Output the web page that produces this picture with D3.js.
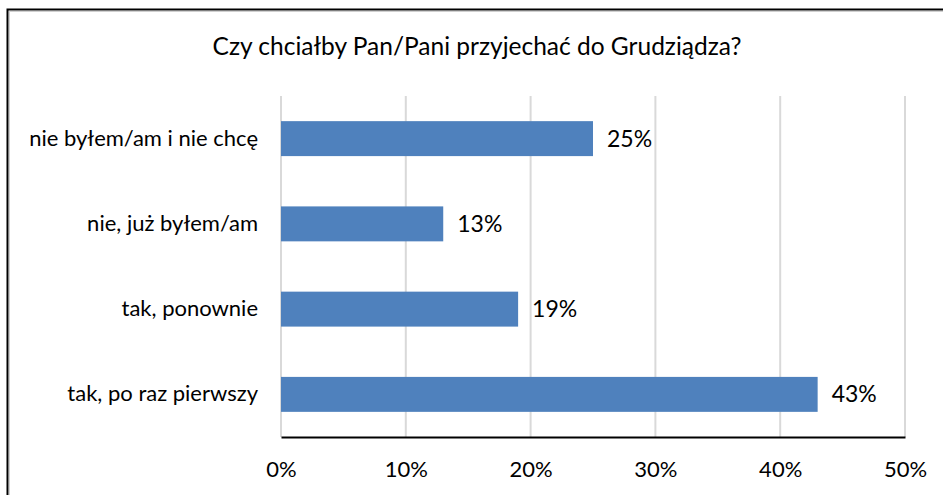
<!DOCTYPE html>
<html><head><meta charset="utf-8">
<script src="https://cdn.jsdelivr.net/npm/d3@7"></script>
<style>body{margin:0;background:#fff}svg{display:block}</style>
</head><body>
<script>
const title = "Czy chciałby Pan/Pani przyjechać do Grudziądza?";
const categories = ["nie byłem/am i nie chcę", "nie, już byłem/am", "tak, ponownie", "tak, po raz pierwszy"];
const values = [25, 13, 19, 43];
const tickValues = [0, 10, 20, 30, 40, 50];

const W = 943, H = 495;
const svg = d3.select("body").append("svg").attr("width", W).attr("height", H);
const font = "Lato, 'Open Sans', sans-serif";

// frame
svg.append("rect").attr("x", 7.5).attr("y", 9.5).attr("width", 960).attr("height", 520)
  .attr("fill", "#fff").attr("stroke", "#000").attr("stroke-width", 2);
svg.append("rect").attr("x", 9.5).attr("y", 11.5).attr("width", 960).attr("height", 520)
  .attr("fill", "none").attr("stroke", "#d0d0d0").attr("stroke-width", 1);

const x = d3.scaleLinear().domain([0, 50]).range([281, 905]);
const y = d3.scaleBand().domain(categories).range([96, 437]).paddingInner(0.59).paddingOuter(0.295);

// gridlines
svg.append("g").selectAll("line").data(tickValues).join("line")
  .attr("x1", d => x(d)).attr("x2", d => x(d)).attr("y1", 96).attr("y2", 437)
  .attr("stroke", "#d9d9d9").attr("stroke-width", 2);

// bars
svg.append("g").selectAll("rect").data(values).join("rect")
  .attr("x", x(0)).attr("y", (d, i) => y(categories[i]))
  .attr("width", d => x(d) - x(0)).attr("height", y.bandwidth())
  .attr("fill", "#4f81bd");

// data labels
svg.append("g").selectAll("text").data(values).join("text")
  .attr("x", d => x(d) + 14).attr("y", (d, i) => y(categories[i]) + y.bandwidth() / 2)
  .attr("dy", "0.35em").attr("font-family", font).attr("font-size", 23).attr("fill", "#000")
  .text(d => d + "%");

// x axis
const xAxis = d3.axisBottom(x).tickValues(tickValues).tickFormat(d => d + "%").tickSize(0).tickPadding(24);
const gx = svg.append("g").attr("transform", "translate(0,437)").call(xAxis);
gx.select(".domain").attr("stroke", "#000").attr("stroke-width", 2);
gx.selectAll("text").attr("font-family", font).attr("font-size", 22).attr("fill", "#000");

// y axis labels
const yAxis = d3.axisLeft(y).tickSize(0).tickPadding(23);
const gy = svg.append("g").attr("transform", "translate(281,0)").call(yAxis);
gy.select(".domain").remove();
gy.selectAll("text").attr("font-family", font).attr("font-size", 22).attr("fill", "#000");

// title
svg.append("text").attr("x", 477).attr("y", 55).attr("text-anchor", "middle")
  .attr("font-family", font).attr("font-size", 24.5).attr("fill", "#000").text(title);
</script>
</body></html>
